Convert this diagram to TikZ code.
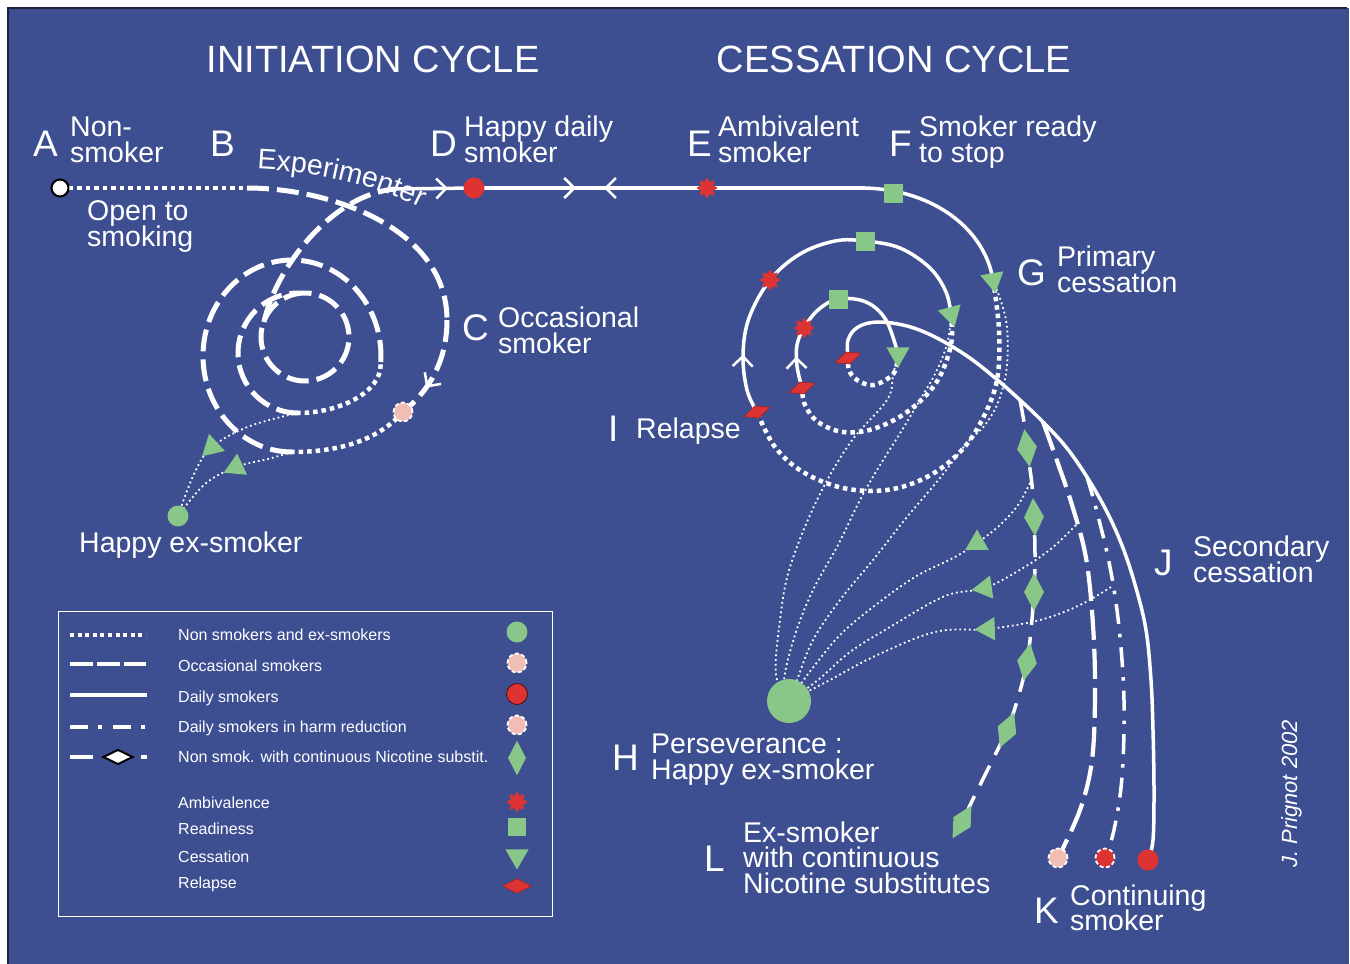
\documentclass[tikz,border=0pt]{standalone}
\usepackage{fontspec}
\setmainfont{Liberation Sans}
\usetikzlibrary{shapes.geometric,arrows.meta,decorations.markings,decorations.text}
\definecolor{bg}{RGB}{61,79,145}
\definecolor{edgec}{RGB}{30,35,60}
\definecolor{gr}{RGB}{137,199,137}
\definecolor{rd}{RGB}{221,51,51}
\definecolor{pk}{RGB}{240,190,180}
\tikzset{
  chev/.tip={Straight Barb[length=10pt,width=20pt,line width=2.5pt]},
  every node/.style={inner sep=0pt},
  title/.style={anchor=base, text=white, font=\fontsize{38}{40}\selectfont},
  lab/.style={anchor=base west, text=white, font=\fontsize{28.5}{30}\selectfont},
  big/.style={anchor=base west, text=white, font=\fontsize{37}{40}\selectfont},
  leg/.style={anchor=base west, text=white, font=\fontsize{16}{18}\selectfont},
  solidl/.style={white, line width=3.5pt},
  dotk/.style={white, line width=4.5pt, dash pattern=on 4.5pt off 4pt},
  dotn/.style={white, line width=1.8pt, dash pattern=on 1.8pt off 3pt},
  dashI/.style={white, line width=5pt, dash pattern=on 22pt off 8pt},
  dashK/.style={white, line width=4.2pt, dash pattern=on 30pt off 9pt},
  dashdot/.style={white, line width=3.5pt, dash pattern=on 20pt off 10pt on 3.5pt off 10pt},
  dashL/.style={white, line width=3.5pt, dash pattern=on 22pt off 12pt},
  wcirc/.style={circle, fill=white, draw=black, line width=2pt, minimum size=17pt},
  gcirc/.style={circle, fill=gr, minimum size=21pt},
  rcirc/.style={circle, fill=rd, minimum size=21pt},
  pkc/.style={circle, fill=pk, draw=white, line width=1.8pt, dash pattern=on 4pt off 2.5pt, minimum size=19pt},
  rdc/.style={circle, fill=rd, draw=white, line width=1.8pt, dash pattern=on 4pt off 2.5pt, minimum size=19pt},
  sq/.style={rectangle, fill=gr, minimum size=19pt},
  tri/.style={regular polygon, regular polygon sides=3, fill=gr, minimum size=27pt},
  amb/.style={star, star points=8, star point ratio=1.7, fill=rd, draw=rd, line width=1.5pt, line join=round, minimum size=19pt},
  rel/.style={diamond, fill=rd, draw=rd!70!black, line width=0.6pt, minimum width=28pt, minimum height=13pt},
  nic/.style={diamond, fill=gr, minimum width=20pt, minimum height=38pt},
}
\begin{document}
\begin{tikzpicture}[x=1pt,y=-1pt]
\useasboundingbox (0,0) rectangle (1350,964);
\fill[white] (0,0) rectangle (1350,964);
\fill[bg] (8,8) rectangle (1349,964);
\draw[line width=1.5pt, edgec] (8,964) -- (8,8) -- (1347,8);

% titles
\node[title] (title1) at (373,72) {INITIATION CYCLE};
\node[title] (title2) at (894,72) {CESSATION CYCLE};

% ---------- coordinates ----------
\coordinate (A) at (60,188);
\coordinate (Bs) at (247,188);
\coordinate (Cp) at (403,412);
\coordinate (Pr) at (447,320);
\coordinate (O1b) at (292,452);
\coordinate (Mb) at (298,413);
\coordinate (Ii) at (264,322);
\coordinate (Xj) at (395,189);
\coordinate (hx) at (178,516);
\coordinate (ta) at (212,447);
\coordinate (tb) at (236,467);
\coordinate (D) at (474,188);
\coordinate (Es) at (707,188);
\coordinate (Fc) at (865,188);
\coordinate (Fq) at (893,193);
\coordinate (Gt) at (993,280);
\coordinate (r1) at (757,412);
\coordinate (r2) at (802,388);
\coordinate (r3) at (848,358);
\coordinate (s2) at (770,280);
\coordinate (s3) at (804,328);
\coordinate (q2) at (865,241);
\coordinate (q3) at (838,299);
\coordinate (t2) at (951,314);
\coordinate (t3) at (898,354);
\coordinate (H) at (789,701);
\coordinate (k1) at (1058,858);
\coordinate (k2) at (1105,858);
\coordinate (k3) at (1148,860);
\coordinate (Ls) at (1020,400);
\coordinate (Kps) at (1043,422);
\coordinate (Khs) at (1087,477);
\coordinate (n1) at (1027,448);
\coordinate (n2) at (1034,517);
\coordinate (n3) at (1034,592);
\coordinate (n4) at (1027,662);
\coordinate (n5) at (1007,730);
\coordinate (n6) at (962,822);
\coordinate (dS) at (1030,483);
\coordinate (eS) at (1076,525);
\coordinate (fS) at (1111,587);
\coordinate (td) at (977,543);
\coordinate (te) at (985,588);
\coordinate (tf) at (988,629);

% ---------- initiation cycle ----------
\draw[dotk] (A) -- (Bs);
\draw[dashI] (Bs) .. controls (330,188) and (447,228) .. (Pr);
\draw[dashI, postaction={decorate}, decoration={markings, mark=at position 72pt with {\arrow{chev}}}]
  (Pr) .. controls (447,360) and (430,390) .. (Cp);
\draw[dotk] (Cp) .. controls (378,440) and (340,452) .. (O1b);
\draw[dashI] (O1b) arc[start angle=90, end angle=365, x radius=89, y radius=96] coordinate (O1e);
\draw[dotk] (O1e) .. controls (381,392) and (340,413) .. (Mb);
\draw[dashI] (Mb) arc[start angle=90, end angle=270, radius=60] -- (305,293)
  arc[start angle=270, end angle=630, radius=44];
\draw[dashI] (Ii) .. controls (275,270) and (330,195) .. (Xj);
\draw[solidl, postaction={decorate}, decoration={markings, mark=at position 53pt with {\arrow{chev}}}] (Xj) -- (D);
\draw[dotn] plot[smooth, tension=0.6] coordinates {(Mb) (250,426) (ta) (194,474) (hx)};
\draw[dotn] plot[smooth, tension=0.6] coordinates {(O1b) (268,459) (tb) (205,484) (hx)};

% ---------- cessation cycle ----------
\draw[solidl, postaction={decorate}, decoration={markings,
   mark=at position 102pt with {\arrow{chev}},
   mark=at position 130pt with {\arrowreversed{chev}}}] (D) -- (Fc);
\draw[solidl] (Fc) .. controls (935,190) and (985,230) .. (Gt);
% thin fan lines to H
\draw[dotn] plot[smooth, tension=0.6] coordinates {(t3) (893,375) (887,400) (850,443) (817,500) (790,567) (780,620) (776,675) (H)};
\draw[dotn] plot[smooth, tension=0.6] coordinates {(t2) (948,340) (938,368) (920,400) (899,435) (880,465) (860,500) (838,545) (813,590) (795,635) (784,680) (H)};
\draw[dotn] plot[smooth, tension=0.6] coordinates {(Gt) (1006,320) (1007,365) (999,400) (985,425) (967,443) (940,478) (907,517) (873,560) (840,600) (813,640) (797,680) (H)};
\draw[dotn] plot[smooth, tension=0.6] coordinates {(dS) (1018,505) (1000,525) (td) (955,557) (915,577) (873,607) (840,635) (815,665) (800,685) (H)};
\draw[dotn] plot[smooth, tension=0.6] coordinates {(eS) (1052,548) (1023,568) (te) (945,596) (890,627) (850,652) (818,680) (H)};
\draw[dotn] plot[smooth, tension=0.6] coordinates {(fS) (1080,605) (1040,620) (tf) (935,632) (873,657) (830,680) (H)};
% spiral
\draw[dotk] plot[smooth, tension=0.6] coordinates {(Gt) (999,330) (997,380) (982,420) (960,452) (927,477) (887,490) (843,488) (803,472) (775,447) (r1)};
\draw[solidl, postaction={decorate}, decoration={markings, mark=at position 60pt with {\arrow{chev}}}]
  plot[smooth, tension=0.6] coordinates {(r1) (747,390) (743,355) (749,318) (s2) (800,254) (835,241) (q2) (900,248) (930,268) (946,292) (t2)};
\draw[dotk] plot[smooth, tension=0.6] coordinates {(t2) (951,345) (936,383) (907,412) (873,429) (843,432) (818,422) (805,405) (r2)};
\draw[solidl, postaction={decorate}, decoration={markings, mark=at position 32pt with {\arrow{chev}}}]
  plot[smooth, tension=0.6] coordinates {(r2) (797,366) (797,345) (s3) (818,310) (q3) (866,302) (886,320) (t3)};
\draw[dotk] plot[smooth, tension=0.6] coordinates {(t3) (894,373) (874,385) (857,380) (849,370) (r3)};
\draw[solidl] plot[smooth, tension=0.6] coordinates {(r3) (848,340) (858,327) (878,322) (907,326) (935,337) (967,356) (994,377) (Ls) (Kps) (1066,447) (Khs) (1107,512) (1123,548) (1136,588) (1146,630) (1151,680) (1153,730) (1154,790) (1153,840) (k3)};
\draw[dashL] plot[smooth, tension=0.6] coordinates {(Ls) (1025,428) (n1) (1032,485) (n2) (1035,555) (n3) (1031,630) (n4) (1018,698) (n5) (990,765) (975,795) (n6)};
\draw[dashK] plot[smooth, tension=0.6] coordinates {(Kps) (1056,458) (1072,505) (1086,558) (1093,625) (1095,693) (1092,760) (1080,810) (k1)};
\draw[dashdot] plot[smooth, tension=0.6] coordinates {(Khs) (1097,512) (1110,567) (1119,627) (1124,700) (1122,777) (1114,830) (k2)};

% ---------- markers ----------
\node[wcirc] (An) at (A) {};
\node[pkc] (Cn) at (Cp) {};
\node[rcirc] (Dn) at (D) {};
\node[gcirc] (hxn) at (hx) {};
\node[tri, rotate=133] (tan) at (ta) {};
\node[tri, rotate=115] (tbn) at (tb) {};
\node[amb] (En) at (Es) {};
\node[amb] (s2n) at (s2) {};
\node[amb] (s3n) at (s3) {};
\node[sq] (Fn) at (Fq) {};
\node[sq] (q2n) at (q2) {};
\node[sq] (q3n) at (q3) {};
\node[tri, rotate=190] (Gn) at (Gt) {};
\node[tri, rotate=195] (t2n) at (t2) {};
\node[tri, rotate=180] (t3n) at (t3) {};
\node[rel, rotate=20] (r1n) at (r1) {};
\node[rel, rotate=20] (r2n) at (r2) {};
\node[rel, rotate=20] (r3n) at (r3) {};
\node[tri, rotate=120] (tdn) at (td) {};
\node[tri, rotate=98] (ten) at (te) {};
\node[tri, rotate=92] (tfn) at (tf) {};
\node[nic, rotate=8] (n1n) at (n1) {};
\node[nic, rotate=3] (n2n) at (n2) {};
\node[nic] (n3n) at (n3) {};
\node[nic, rotate=-10] (n4n) at (n4) {};
\node[nic, rotate=-22] (n5n) at (n5) {};
\node[nic, rotate=-30] (n6n) at (n6) {};
\node[circle, fill=gr, minimum size=44pt] (Hn) at (H) {};
\node[pkc] (k1n) at (k1) {};
\node[rdc] (k2n) at (k2) {};
\node[rcirc] (k3n) at (k3) {};

% ---------- labels ----------
\node[big] (lA) at (33,156) {A};
\node[lab] (lA1) at (70,136) {Non-};
\node[lab] (lA2) at (70,162) {smoker};
\node[big] (lB) at (210,156) {B};
\node[lab] (lO1) at (87,220) {Open to};
\node[lab] (lO2) at (87,246) {smoking};
\begin{scope}[color=white]
\path[decorate, decoration={text along path, text align=left,
  text={|\color{white}\fontsize{28.5}{30}\selectfont|Experimenter}}]
  (257,169) .. controls (320,172) and (385,187) .. (432,214);
\end{scope}
\node[big] (lD) at (430,156) {D};
\node[lab] (lD1) at (464,136) {Happy daily};
\node[lab] (lD2) at (464,162) {smoker};
\node[big] (lE) at (687,156) {E};
\node[lab] (lE1) at (718,136) {Ambivalent};
\node[lab] (lE2) at (718,162) {smoker};
\node[big] (lF) at (889,156) {F};
\node[lab] (lF1) at (919,136) {Smoker ready};
\node[lab] (lF2) at (919,162) {to stop};
\node[big] (lG) at (1017,285) {G};
\node[lab] (lG1) at (1057,266) {Primary};
\node[lab] (lG2) at (1057,292) {cessation};
\node[big] (lC) at (462,340) {C};
\node[lab] (lC1) at (498,327) {Occasional};
\node[lab] (lC2) at (498,353) {smoker};
\node[big] (lI) at (608,441) {I};
\node[lab] (lI1) at (636,438) {Relapse};
\node[lab] (lhx) at (79,552) {Happy ex-smoker};
\node[big] (lJ) at (1154,575) {J};
\node[lab] (lJ1) at (1193,556) {Secondary};
\node[lab] (lJ2) at (1193,582) {cessation};
\node[big] (lH) at (612,770) {H};
\node[lab] (lH1) at (651,753) {Perseverance :};
\node[lab] (lH2) at (651,779) {Happy ex-smoker};
\node[big] (lL) at (704,871) {L};
\node[lab] (lL1) at (743,842) {Ex-smoker};
\node[lab] (lL2) at (743,867) {with continuous};
\node[lab] (lL3) at (743,893) {Nicotine substitutes};
\node[big] (lK) at (1034,923) {K};
\node[lab] (lK1) at (1070,905) {Continuing};
\node[lab] (lK2) at (1070,930) {smoker};
\node[anchor=base west, rotate=90, text=white, font=\fontsize{22}{24}\selectfont\itshape] (sig) at (1297,868) {J. Prignot 2002};

% ---------- legend ----------
\node[draw=white, line width=1.2pt, minimum width=494pt, minimum height=305pt, anchor=north west] (legend) at (58,611) {};
\draw[white, line width=4pt, dash pattern=on 4pt off 3.6pt] (70,635) -- (146,635);
\draw[white, line width=4.5pt, dash pattern=on 23pt off 4pt] (70,664) -- (146,664);
\draw[white, line width=3.5pt] (70,695) -- (147,695);
\draw[white, line width=4pt, dash pattern=on 18pt off 10pt on 4pt off 11pt] (70,727) -- (146,727);
\draw[white, line width=4pt] (70,757) -- (93,757);
\draw[white, line width=4pt] (141,757) -- (147,757);
\node[diamond, fill=white, draw=black, line width=2pt, minimum width=30pt, minimum height=15pt] (legnic) at (118,757) {};
\node[leg] (g1) at (178,640) {Non smokers and ex-smokers};
\node[leg] (g2) at (178,671) {Occasional smokers};
\node[leg] (g3) at (178,702) {Daily smokers};
\node[leg] (g4) at (178,732) {Daily smokers in harm reduction};
\node[leg] (g5) at (178,762) {Non smok. with continuous Nicotine substit.};
\node[leg] (g6) at (178,808) {Ambivalence};
\node[leg] (g7) at (178,834) {Readiness};
\node[leg] (g8) at (178,862) {Cessation};
\node[leg] (g9) at (178,888) {Relapse};
\node[gcirc] (m1) at (517,632) {};
\node[pkc] (m2) at (517,663) {};
\node[rcirc, draw=black!70!rd, line width=0.8pt] (m3) at (517,694) {};
\node[pkc] (m4) at (517,725) {};
\node[nic, minimum width=18pt, minimum height=35pt] (m5) at (517,758) {};
\node[amb] (m6) at (517,802) {};
\node[sq, minimum size=18pt] (m7) at (517,827) {};
\node[tri, rotate=180] (m8) at (517,856) {};
\node[rel, minimum width=29pt, minimum height=15pt] (m9) at (517,886) {};
\end{tikzpicture}
\end{document}
